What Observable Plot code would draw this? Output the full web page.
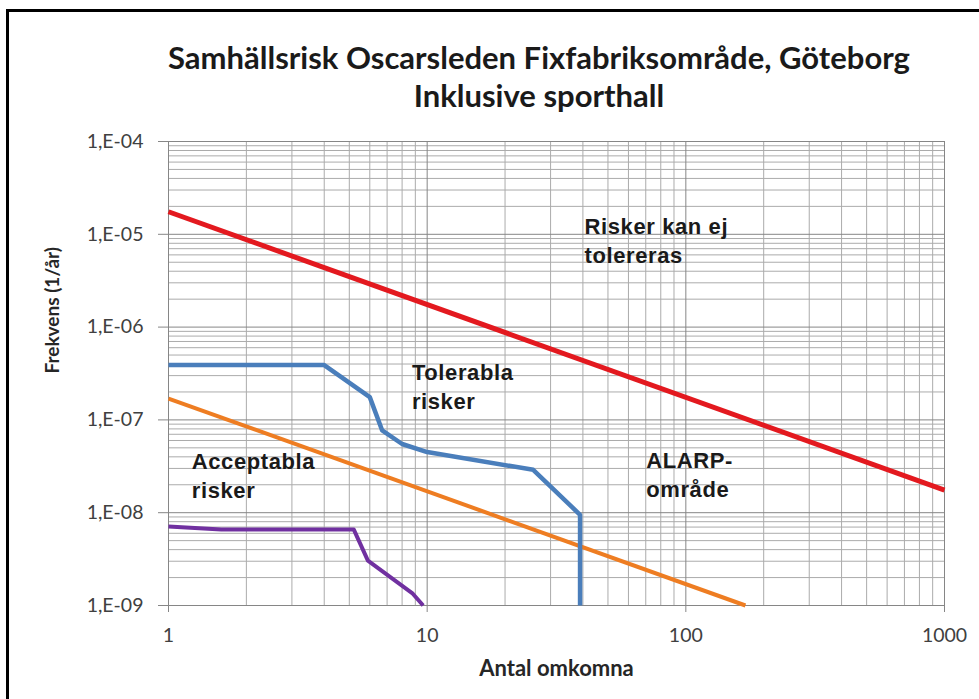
<!DOCTYPE html>
<html>
<head>
<meta charset="utf-8">
<script src="https://cdn.jsdelivr.net/npm/d3@7"></script>
<script src="https://cdn.jsdelivr.net/npm/@observablehq/plot@0.6"></script>
<style>
  html, body { margin: 0; padding: 0; background: #fff; }
  #wrap { position: relative; width: 979px; height: 699px; overflow: hidden; background: #fff; }
  #frame { position: absolute; left: 6px; top: 9px; width: 1100px; height: 800px;
           border-left: 3px solid #000; border-top: 3px solid #000; pointer-events: none; }
  .title { position: absolute; left: 139px; width: 800px; text-align: center; white-space: nowrap;
           font-family: Lato, "Open Sans", sans-serif; font-weight: bold; font-size: 31px;
           line-height: 40px; height: 40px; color: #1a1a1a; }
  #chart { position: absolute; left: 0; top: 120px; }
</style>
</head>
<body>
<div id="wrap">
  <div id="frame"></div>
  <div class="title" style="top:37px">Samhällsrisk Oscarsleden Fixfabriksområde, Göteborg</div>
  <div class="title" style="top:75px">Inklusive sporthall</div>
  <div id="chart"></div>
</div>
<script>
// ---- data ----
const xTicks = [1, 10, 100, 1000];
const xTickLabels = ["1", "10", "100", "1000"];
const yTicks = [1e-4, 1e-5, 1e-6, 1e-7, 1e-8, 1e-9];
const yTickLabels = ["1,E-04", "1,E-05", "1,E-06", "1,E-07", "1,E-08", "1,E-09"];
const minorSteps = [2, 3, 4, 5, 6, 7, 8, 9];

// upper criterion (red)
const redN = [1, 1000];
const redF = [1.75e-5, 1.75e-8];
// lower criterion (orange)
const orangeN = [1, 170];
const orangeF = [1.7e-7, 1e-9];
// societal risk incl. sporthall (blue)
const blueN = [1, 4, 6, 6.7, 8, 10, 25.7, 39, 39];
const blueF = [3.9e-7, 3.9e-7, 1.76e-7, 7.7e-8, 5.5e-8, 4.5e-8, 2.9e-8, 9.5e-9, 1e-9];
// second FN curve (purple)
const purpleN = [1, 1.6, 5.2, 5.9, 8.8, 9.65];
const purpleF = [7.1e-9, 6.6e-9, 6.6e-9, 3.05e-9, 1.34e-9, 1e-9];

// region labels
const annoText = ["Risker kan ej\ntolereras", "Tolerabla\nrisker", "Acceptabla\nrisker", "ALARP-\nområde"];
const annoN = [40.6, 8.73, 1.23, 70.3];
const annoF = [1.66e-5, 4.45e-7, 4.9e-8, 5.0e-8];

const xLabel = "Antal omkomna";
const yLabel = "Frekvens (1/år)";

// ---- build ----
const toRows = (N, F) => N.map((n, i) => ({n, f: F[i]}));
const xMinor = xTicks.slice(0, -1).flatMap(d => minorSteps.map(k => k * d));
const yMinor = yTicks.slice(1).flatMap(d => minorSteps.map(k => k * d));
const annos = annoText.map((t, i) => ({t, n: annoN[i], f: annoF[i]}));

const lineStyle = {x: "n", y: "f", strokeLinejoin: "round", strokeLinecap: "butt"};

const chart = Plot.plot({
  width: 979,
  height: 579,
  marginTop: 21,
  marginBottom: 94,
  marginLeft: 168,
  marginRight: 35,
  style: {fontFamily: "Lato, 'Open Sans', sans-serif", background: "transparent", overflow: "visible"},
  x: {type: "log", domain: [1, 1000]},
  y: {type: "log", domain: [1e-9, 1e-4]},
  marks: [
    Plot.ruleX(xMinor, {stroke: "#ababab", strokeWidth: 1}),
    Plot.ruleY(yMinor, {stroke: "#ababab", strokeWidth: 1}),
    Plot.ruleX(xTicks, {stroke: "#868686", strokeWidth: 1}),
    Plot.ruleY(yTicks, {stroke: "#868686", strokeWidth: 1}),
    Plot.axisX(xTicks, {tickSize: 7, tickPadding: 16, fontSize: 19.5, stroke: "#868686", fill: "#404040",
      tickFormat: d => xTickLabels[xTicks.indexOf(d)], label: null}),
    Plot.axisY(yTicks, {tickSize: 10, tickPadding: 15, fontSize: 19.5, stroke: "#868686", fill: "#404040",
      tickFormat: d => yTickLabels[yTicks.indexOf(d)], label: null}),
    Plot.line(toRows(orangeN, orangeF), {...lineStyle, stroke: "#ee7d22", strokeWidth: 4}),
    Plot.line(toRows(purpleN, purpleF), {...lineStyle, stroke: "#7030a0", strokeWidth: 4}),
    Plot.line(toRows(blueN, blueF), {...lineStyle, stroke: "#4a7ebb", strokeWidth: 4.5}),
    Plot.line(toRows(redN, redF), {...lineStyle, stroke: "#e3191f", strokeWidth: 5}),
    Plot.text(annos, {x: "n", y: "f", text: "t", textAnchor: "start", lineAnchor: "top", lineHeight: 1.3,
      fontSize: 22, fontWeight: "bold", fontFamily: "'Liberation Sans', Arial, sans-serif", fill: "#1a1a1a"}),
    Plot.text([xLabel], {frameAnchor: "bottom", dy: 70, fontSize: 22, fontWeight: "bold", fill: "#262626"}),
    Plot.text([yLabel], {frameAnchor: "left", dx: -116, rotate: -90, fontSize: 19, fontWeight: "bold", fill: "#262626"})
  ]
});
// slight horizontal widening of the region labels, as in the reference
d3.select(chart).selectAll("g[aria-label='text']").filter((d, i) => i === 0)
  .selectAll("text").style("letter-spacing", "0.6px");
document.getElementById("chart").appendChild(chart);
</script>
</body>
</html>
